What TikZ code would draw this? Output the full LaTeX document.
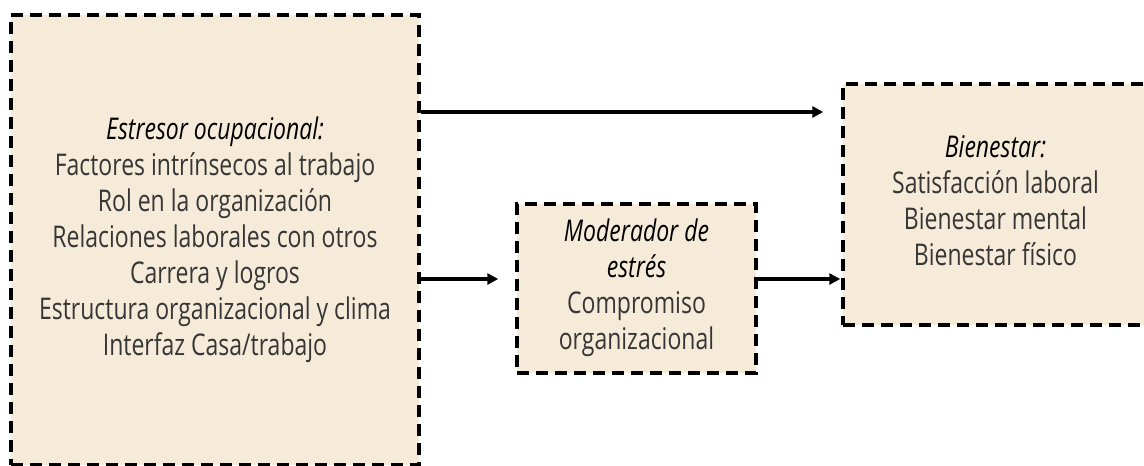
\documentclass[tikz,border=0pt]{standalone}
\usepackage{fontspec}
\usepackage{graphicx}
\setmainfont{Open Sans}
\usetikzlibrary{arrows.meta}
\definecolor{boxfill}{HTML}{F6EBD8}
\definecolor{txt}{HTML}{363636}
\newcommand\talltext[1]{\scalebox{1}[1.3]{\begin{tabular}{@{}c@{}}#1\end{tabular}}}
\begin{document}
\begin{tikzpicture}[x=1pt,y=-1pt,
  box/.style={draw=black, fill=boxfill, line width=3.5pt, dash pattern=on 12pt off 7pt,
    inner sep=0pt, align=center, text=txt, font=\fontsize{23}{27.7}\selectfont},
  arr/.style={line width=3.5pt, -{Triangle[length=11pt,width=11pt]}}]
\useasboundingbox (0,0) rectangle (1144,466);
\clip (0,0) rectangle (1144,466);
\node[box, minimum width=408pt, minimum height=450pt] (L) at (215,240)
  {\talltext{\textit{\color{black}Estresor ocupacional:}\\Factores intrínsecos al trabajo\\Rol en la organización\\Relaciones laborales con otros\\Carrera y logros\\Estructura organizacional y clima\\Interfaz Casa/trabajo}};
\node[box, minimum width=239pt, minimum height=169pt] (M) at (636.5,288.5)
  {\talltext{\textit{\color{black}Moderador de}\\\textit{\color{black}estrés}\\Compromiso\\organizacional}};
\node[box, minimum width=305pt, minimum height=241pt] (R) at (995.5,204.5)
  {\talltext{\textit{\color{black}Bienestar:}\\Satisfacción laboral\\Bienestar mental\\Bienestar físico}};
\coordinate (ytop) at (0,112);
\coordinate (ymid) at (0,279);
\draw[arr, shorten >=18pt] (L.east |- ytop) -- (R.west |- ytop);
\draw[arr, shorten >=17pt] (L.east |- ymid) -- (M.west |- ymid);
\draw[arr, shorten >=1pt] (M.east |- ymid) -- (R.west |- ymid);
\end{tikzpicture}
\end{document}
